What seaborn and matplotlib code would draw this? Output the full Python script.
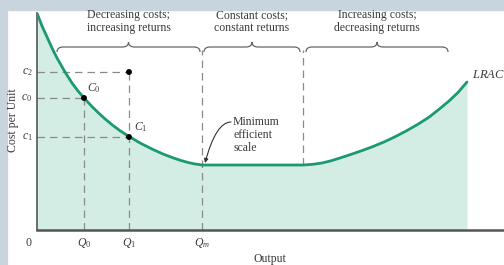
import numpy as np
import matplotlib
matplotlib.use("Agg")
import matplotlib.pyplot as plt
from matplotlib.path import Path
from matplotlib.patches import PathPatch, Rectangle
import seaborn as sns
import pandas as pd

# LRAC curve (output, cost per unit), pixel-like units
output = [0, 5, 10, 15, 20, 28, 35, 41, 47, 54, 60, 67, 75, 83, 92, 104, 116, 126, 136,
          143, 150, 157, 165, 266, 276, 285, 294, 303, 314, 325, 336, 347, 358, 370,
          381, 392, 403, 412, 421, 430]
cost = [217, 204, 193, 182, 172, 158, 147, 139, 132, 124.5, 118.5, 112, 105.3, 99.3, 93.5,
        86.5, 80.5, 76, 72.2, 69.8, 67.8, 66.2, 65, 65, 65.7, 67, 69.2, 72, 75.6, 79.4,
        83.5, 88, 93.2, 99.5, 105.8, 112.8, 121.5, 129, 137.5, 148]

q_pos = [47, 92, 165]
q_labels = ["$Q_0$", "$Q_1$", "$Q_m$"]
c_vals = [158, 132, 93]
c_labels = ["$c_2$", "$c_0$", "$c_1$"]
pts_x = [47, 92, 92]
pts_y = [132, 93, 158]
flat_end = 266

regions = [
    ("Decreasing costs;\nincreasing returns", 20, 163),
    ("Constant costs;\nconstant returns", 167, 263),
    ("Increasing costs;\ndecreasing returns", 269, 411),
]

sns.set_style("white")
plt.rcParams["font.family"] = ["Liberation Serif", "DejaVu Serif"]
plt.rcParams["mathtext.fontset"] = "custom"
plt.rcParams["mathtext.rm"] = "Liberation Serif"
plt.rcParams["mathtext.it"] = "Liberation Serif:italic"

green = "#1b9974"
fillc = "#d3ece4"
txt = "#3a3a3a"
dash = "#8a8a8a"

fig = plt.figure(figsize=(5.04, 2.65), dpi=100)
fig.patch.set_facecolor("white")
fig.patches.append(Rectangle((0, 0), 7 / 504, 1, transform=fig.transFigure, color="#c8d5dd", zorder=-5))
fig.patches.append(Rectangle((0, 1 - 10 / 265), 1, 10 / 265, transform=fig.transFigure, color="#c8d5dd", zorder=-5))

ax = fig.add_axes([37 / 504, 35 / 265, 467 / 504, 217 / 265])
ax.set_facecolor("none")
ax.set_xlim(0, 467)
ax.set_ylim(0, 217)

df = pd.DataFrame({"output": output, "cost": cost})
ax.fill_between(df["output"], 0, df["cost"], color=fillc, lw=0, zorder=1)

# dashed guides
dkw = dict(color=dash, lw=0.9, ls=(0, (6, 4)), zorder=2)
ax.plot([0, pts_x[2]], [c_vals[0], c_vals[0]], **dkw)
ax.plot([0, pts_x[0]], [c_vals[1], c_vals[1]], **dkw)
ax.plot([0, pts_x[1]], [c_vals[2], c_vals[2]], **dkw)
ax.plot([q_pos[0], q_pos[0]], [0, pts_y[0]], **dkw)
ax.plot([q_pos[1], q_pos[1]], [0, pts_y[2]], **dkw)
ax.plot([q_pos[2], q_pos[2]], [0, 180], **dkw)
ax.plot([flat_end, flat_end], [65, 180], **dkw)

sns.lineplot(data=df, x="output", y="cost", color=green, lw=2.0, ax=ax, zorder=3)
sns.scatterplot(x=pts_x, y=pts_y, color="black", s=18, edgecolor="none", ax=ax, zorder=4)

sns.despine(ax=ax)
ax.spines["left"].set_color("#555555")
ax.spines["left"].set_linewidth(1.2)
ax.spines["bottom"].set_color("#555555")
ax.spines["bottom"].set_linewidth(1.8)
ax.set_xticks([])
ax.set_yticks([])
ax.set_xlabel("")
ax.set_ylabel("")

fs = 8.5
for q, lab in zip(q_pos, q_labels):
    ax.text(q, -13, lab, ha="center", va="center", fontsize=fs, color=txt, clip_on=False)
for c, lab in zip(c_vals, c_labels):
    ax.text(-10, c, lab, ha="center", va="center", fontsize=fs, color=txt, clip_on=False)
ax.text(-9, -13, "0", ha="center", va="center", fontsize=fs, color=txt, clip_on=False)
ax.text(233, -29, "Output", ha="center", va="center", fontsize=fs, color=txt, clip_on=False)
ax.text(-24, 110, "Cost per Unit", ha="center", va="center", rotation=90, fontsize=fs,
        color=txt, clip_on=False)

ax.text(50, 142, "$C_0$", ha="left", va="center", fontsize=fs, color=txt)
ax.text(97, 103, "$C_1$", ha="left", va="center", fontsize=fs, color=txt)
ax.text(435, 155, "$LRAC$", ha="left", va="center", fontsize=9, color=txt, clip_on=False)

ax.text(196, 95, "Minimum\nefficient\nscale", ha="left", va="center", fontsize=fs, color=txt,
        linespacing=1.1)
ax.annotate("", xy=(168, 67), xytext=(194, 108),
            arrowprops=dict(arrowstyle="-|>", connectionstyle="angle3,angleA=0,angleB=75",
                            shrinkA=0, shrinkB=0, lw=0.8, color="#333333", mutation_scale=6))


def brace(x0, x1, y, h=5, r=6):
    xm = (x0 + x1) / 2
    verts = [(x0, y - h), (x0, y), (x0 + r, y),
             (xm - r, y), (xm, y), (xm, y + h),
             (xm, y), (xm + r, y),
             (x1 - r, y), (x1, y), (x1, y - h)]
    codes = [Path.MOVETO, Path.CURVE3, Path.CURVE3,
             Path.LINETO, Path.CURVE3, Path.CURVE3,
             Path.CURVE3, Path.CURVE3,
             Path.LINETO, Path.CURVE3, Path.CURVE3]
    ax.add_patch(PathPatch(Path(verts, codes), fill=False, edgecolor="#666666", lw=0.9, clip_on=False))


for label, x0, x1 in regions:
    brace(x0, x1, 183)
    ax.text((x0 + x1) / 2, 208.5, label, ha="center", va="center", fontsize=fs, color=txt,
            linespacing=1.1, clip_on=False)

fig.savefig("out.png", dpi=100, facecolor=fig.get_facecolor())
